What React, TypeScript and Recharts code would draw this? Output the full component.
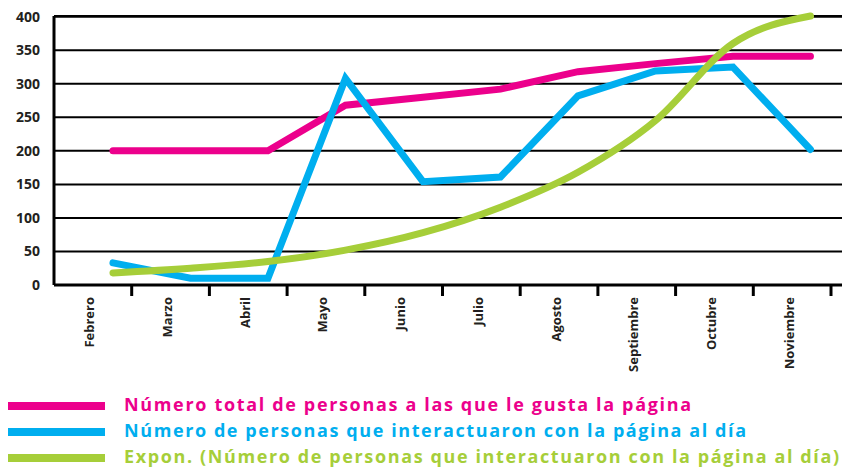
import { LineChart, Line, XAxis, YAxis, CartesianGrid, Legend } from "recharts";

const months = [
  "Febrero",
  "Marzo",
  "Abril",
  "Mayo",
  "Junio",
  "Julio",
  "Agosto",
  "Septiembre",
  "Octubre",
  "Noviembre",
];
const totalLikes = [200, 200, 200, 268, 280, 292, 318, 330, 341, 341];
const dailyInteractions = [33, 10, 10, 308, 154, 161, 282, 319, 325, 202];
const expTrend = [18, 25, 35, 52, 78, 116, 168, 245, 360, 401];
const yTicks = [0, 50, 100, 150, 200, 250, 300, 350, 400];

const seriesNames = [
  "Número total de personas a las que le gusta la página",
  "Número de personas que interactuaron con la página al día",
  "Expon. (Número de personas que interactuaron con la página al día)",
];

const PINK = "#ec008c";
const BLUE = "#00aeef";
const GREEN = "#a6ce39";
const FONT = "'Open Sans', Lato, sans-serif";

const data = months.map((month, i) => ({
  month,
  idx: i,
  likes: totalLikes[i],
  daily: dailyInteractions[i],
  trend: expTrend[i],
}));

// legend text widths, to match the stretched lettering
const legendWidths = [567, 622, 715];

const MonthTick = (props: any) => {
  const { x, y, payload } = props;
  const off = payload?.offset || 38.85;
  return (
    <g>
      <line x1={x + off} x2={x + off} y1={y} y2={y + 11} stroke="#000" strokeWidth={3} />
      <text
        x={x - 3}
        y={y + 12}
        transform={`rotate(-90, ${x - 3}, ${y + 12})`}
        textAnchor="end"
        dy="0.35em"
        fontFamily={FONT}
        fontWeight={700}
        fontSize={13}
        fill="#231f20"
      >
        {payload.value}
      </text>
    </g>
  );
};

const LegendRows = (props: any) => {
  const items = [...(props.payload || [])].sort(
    (a: any, b: any) => seriesNames.indexOf(a.value) - seriesNames.indexOf(b.value)
  );
  return (
    <svg width={842} height={82} style={{ display: "block" }}>
      {items.map((item: any, i: number) => (
        <g key={item.value}>
          <rect x={8} y={17 + i * 26} width={97} height={8} fill={item.color} />
          <text
            x={124}
            y={26 + i * 26}
            fill={item.color}
            fontFamily={FONT}
            fontWeight={700}
            fontSize={18}
            textLength={legendWidths[i]}
            lengthAdjust="spacing"
          >
            {item.value}
          </text>
        </g>
      ))}
    </svg>
  );
};

export default function App() {
  return (
    <div style={{ position: "absolute", left: 0, top: 0, background: "#fff" }}>
      <LineChart width={842} height={467} data={data} margin={{ top: 16, right: 0, bottom: 0, left: 0 }}>
        <CartesianGrid vertical={false} stroke="#000" strokeWidth={2} xAxisId="num" />
        <XAxis
          xAxisId="cat"
          dataKey="month"
          type="category"
          scale="band"
          height={100}
          interval={0}
          padding={{ left: 0, right: 11 }}
          axisLine={{ stroke: "#000", strokeWidth: 3 }}
          tickLine={false}
          tickSize={0}
          tickMargin={0}
          tick={<MonthTick />}
        />
        <XAxis
          xAxisId="num"
          dataKey="idx"
          type="number"
          domain={[-0.761, 9.407]}
          allowDataOverflow
          hide
        />
        <YAxis
          domain={[0, 400]}
          ticks={yTicks}
          width={54}
          axisLine={{ stroke: "#000", strokeWidth: 3 }}
          tickLine={false}
          tickSize={0}
          tickMargin={14}
          tick={{ fontFamily: FONT, fontWeight: 700, fontSize: 14, fill: "#231f20" }}
        />
        <Line
          xAxisId="num"
          dataKey="likes"
          name={seriesNames[0]}
          stroke={PINK}
          strokeWidth={7}
          strokeLinecap="round"
          dot={false}
          type="linear"
          isAnimationActive={false}
        />
        <Line
          xAxisId="num"
          dataKey="daily"
          name={seriesNames[1]}
          stroke={BLUE}
          strokeWidth={7}
          strokeLinecap="round"
          dot={false}
          type="linear"
          isAnimationActive={false}
        />
        <Line
          xAxisId="num"
          dataKey="trend"
          name={seriesNames[2]}
          stroke={GREEN}
          strokeWidth={7}
          strokeLinecap="round"
          dot={false}
          type="monotone"
          isAnimationActive={false}
        />
        <Legend
          verticalAlign="bottom"
          align="left"
          content={<LegendRows />}
          wrapperStyle={{ left: 0, width: 842, height: 82 }}
        />
      </LineChart>
    </div>
  );
}
